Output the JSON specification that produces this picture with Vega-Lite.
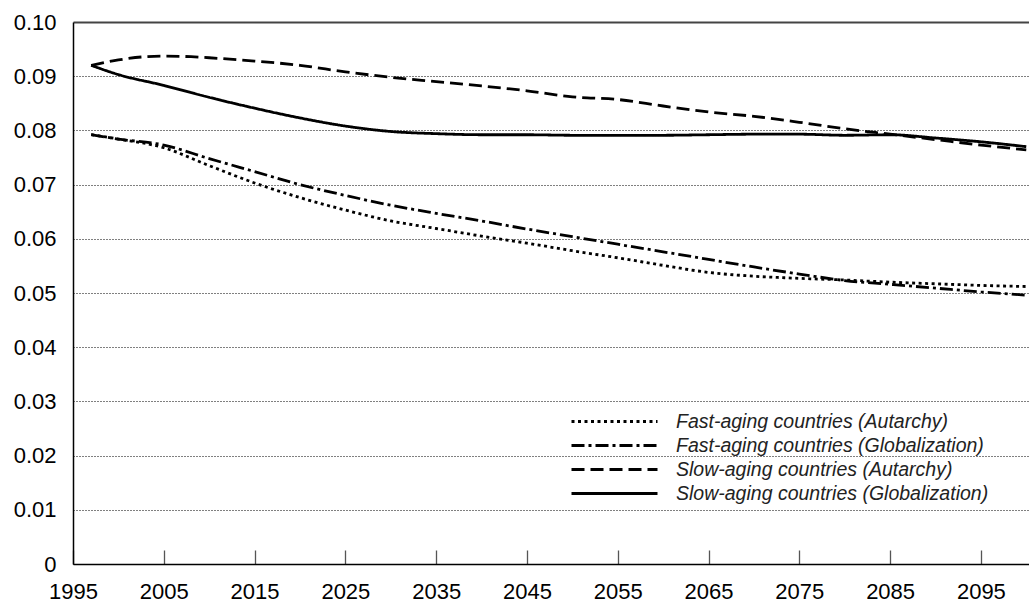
{
  "$schema": "https://vega.github.io/schema/vega-lite/v6.json",
  "width": 956,
  "height": 542,
  "autosize": "none",
  "padding": {"left": 73, "top": 22, "right": 0, "bottom": 46},
  "background": "white",
  "config": {
    "view": {"stroke": null},
    "font": "Liberation Sans"
  },
  "data": {
    "values": [
      {"year": 1997, "series": "Fast-aging countries (Autarchy)", "value": 0.0792},
      {"year": 2000, "series": "Fast-aging countries (Autarchy)", "value": 0.0784},
      {"year": 2005, "series": "Fast-aging countries (Autarchy)", "value": 0.0768},
      {"year": 2010, "series": "Fast-aging countries (Autarchy)", "value": 0.0735},
      {"year": 2015, "series": "Fast-aging countries (Autarchy)", "value": 0.0703},
      {"year": 2020, "series": "Fast-aging countries (Autarchy)", "value": 0.0676},
      {"year": 2025, "series": "Fast-aging countries (Autarchy)", "value": 0.0653},
      {"year": 2030, "series": "Fast-aging countries (Autarchy)", "value": 0.0633},
      {"year": 2035, "series": "Fast-aging countries (Autarchy)", "value": 0.0619},
      {"year": 2040, "series": "Fast-aging countries (Autarchy)", "value": 0.0605},
      {"year": 2045, "series": "Fast-aging countries (Autarchy)", "value": 0.0592},
      {"year": 2050, "series": "Fast-aging countries (Autarchy)", "value": 0.0578},
      {"year": 2055, "series": "Fast-aging countries (Autarchy)", "value": 0.0565},
      {"year": 2060, "series": "Fast-aging countries (Autarchy)", "value": 0.0551},
      {"year": 2065, "series": "Fast-aging countries (Autarchy)", "value": 0.0538},
      {"year": 2070, "series": "Fast-aging countries (Autarchy)", "value": 0.0531},
      {"year": 2075, "series": "Fast-aging countries (Autarchy)", "value": 0.0527},
      {"year": 2080, "series": "Fast-aging countries (Autarchy)", "value": 0.0524},
      {"year": 2085, "series": "Fast-aging countries (Autarchy)", "value": 0.0520},
      {"year": 2090, "series": "Fast-aging countries (Autarchy)", "value": 0.0517},
      {"year": 2095, "series": "Fast-aging countries (Autarchy)", "value": 0.0514},
      {"year": 2100, "series": "Fast-aging countries (Autarchy)", "value": 0.0512},

      {"year": 1997, "series": "Fast-aging countries (Globalization)", "value": 0.0792},
      {"year": 2000, "series": "Fast-aging countries (Globalization)", "value": 0.0784},
      {"year": 2005, "series": "Fast-aging countries (Globalization)", "value": 0.0773},
      {"year": 2010, "series": "Fast-aging countries (Globalization)", "value": 0.0748},
      {"year": 2015, "series": "Fast-aging countries (Globalization)", "value": 0.0724},
      {"year": 2020, "series": "Fast-aging countries (Globalization)", "value": 0.0700},
      {"year": 2025, "series": "Fast-aging countries (Globalization)", "value": 0.0680},
      {"year": 2030, "series": "Fast-aging countries (Globalization)", "value": 0.0662},
      {"year": 2035, "series": "Fast-aging countries (Globalization)", "value": 0.0647},
      {"year": 2040, "series": "Fast-aging countries (Globalization)", "value": 0.0633},
      {"year": 2045, "series": "Fast-aging countries (Globalization)", "value": 0.0618},
      {"year": 2050, "series": "Fast-aging countries (Globalization)", "value": 0.0604},
      {"year": 2055, "series": "Fast-aging countries (Globalization)", "value": 0.0590},
      {"year": 2060, "series": "Fast-aging countries (Globalization)", "value": 0.0576},
      {"year": 2065, "series": "Fast-aging countries (Globalization)", "value": 0.0562},
      {"year": 2070, "series": "Fast-aging countries (Globalization)", "value": 0.0548},
      {"year": 2075, "series": "Fast-aging countries (Globalization)", "value": 0.0535},
      {"year": 2080, "series": "Fast-aging countries (Globalization)", "value": 0.0523},
      {"year": 2085, "series": "Fast-aging countries (Globalization)", "value": 0.0516},
      {"year": 2090, "series": "Fast-aging countries (Globalization)", "value": 0.0509},
      {"year": 2095, "series": "Fast-aging countries (Globalization)", "value": 0.0502},
      {"year": 2100, "series": "Fast-aging countries (Globalization)", "value": 0.0496},

      {"year": 1997, "series": "Slow-aging countries (Autarchy)", "value": 0.0920},
      {"year": 2000, "series": "Slow-aging countries (Autarchy)", "value": 0.0930},
      {"year": 2003, "series": "Slow-aging countries (Autarchy)", "value": 0.0936},
      {"year": 2005, "series": "Slow-aging countries (Autarchy)", "value": 0.0937},
      {"year": 2008, "series": "Slow-aging countries (Autarchy)", "value": 0.0936},
      {"year": 2010, "series": "Slow-aging countries (Autarchy)", "value": 0.0934},
      {"year": 2015, "series": "Slow-aging countries (Autarchy)", "value": 0.0928},
      {"year": 2020, "series": "Slow-aging countries (Autarchy)", "value": 0.0920},
      {"year": 2025, "series": "Slow-aging countries (Autarchy)", "value": 0.0908},
      {"year": 2030, "series": "Slow-aging countries (Autarchy)", "value": 0.0898},
      {"year": 2035, "series": "Slow-aging countries (Autarchy)", "value": 0.0890},
      {"year": 2040, "series": "Slow-aging countries (Autarchy)", "value": 0.0882},
      {"year": 2045, "series": "Slow-aging countries (Autarchy)", "value": 0.0873},
      {"year": 2050, "series": "Slow-aging countries (Autarchy)", "value": 0.0862},
      {"year": 2055, "series": "Slow-aging countries (Autarchy)", "value": 0.0857},
      {"year": 2060, "series": "Slow-aging countries (Autarchy)", "value": 0.0845},
      {"year": 2065, "series": "Slow-aging countries (Autarchy)", "value": 0.0834},
      {"year": 2070, "series": "Slow-aging countries (Autarchy)", "value": 0.0826},
      {"year": 2075, "series": "Slow-aging countries (Autarchy)", "value": 0.0815},
      {"year": 2080, "series": "Slow-aging countries (Autarchy)", "value": 0.0803},
      {"year": 2085, "series": "Slow-aging countries (Autarchy)", "value": 0.0793},
      {"year": 2090, "series": "Slow-aging countries (Autarchy)", "value": 0.0783},
      {"year": 2095, "series": "Slow-aging countries (Autarchy)", "value": 0.0773},
      {"year": 2100, "series": "Slow-aging countries (Autarchy)", "value": 0.0764},

      {"year": 1997, "series": "Slow-aging countries (Globalization)", "value": 0.0920},
      {"year": 2000, "series": "Slow-aging countries (Globalization)", "value": 0.0903},
      {"year": 2005, "series": "Slow-aging countries (Globalization)", "value": 0.0883},
      {"year": 2010, "series": "Slow-aging countries (Globalization)", "value": 0.0861},
      {"year": 2015, "series": "Slow-aging countries (Globalization)", "value": 0.0841},
      {"year": 2020, "series": "Slow-aging countries (Globalization)", "value": 0.0823},
      {"year": 2025, "series": "Slow-aging countries (Globalization)", "value": 0.0808},
      {"year": 2030, "series": "Slow-aging countries (Globalization)", "value": 0.0798},
      {"year": 2035, "series": "Slow-aging countries (Globalization)", "value": 0.0794},
      {"year": 2040, "series": "Slow-aging countries (Globalization)", "value": 0.0792},
      {"year": 2045, "series": "Slow-aging countries (Globalization)", "value": 0.0792},
      {"year": 2050, "series": "Slow-aging countries (Globalization)", "value": 0.0791},
      {"year": 2055, "series": "Slow-aging countries (Globalization)", "value": 0.0791},
      {"year": 2060, "series": "Slow-aging countries (Globalization)", "value": 0.0791},
      {"year": 2065, "series": "Slow-aging countries (Globalization)", "value": 0.0792},
      {"year": 2070, "series": "Slow-aging countries (Globalization)", "value": 0.0793},
      {"year": 2075, "series": "Slow-aging countries (Globalization)", "value": 0.0793},
      {"year": 2080, "series": "Slow-aging countries (Globalization)", "value": 0.0791},
      {"year": 2085, "series": "Slow-aging countries (Globalization)", "value": 0.0792},
      {"year": 2090, "series": "Slow-aging countries (Globalization)", "value": 0.0786},
      {"year": 2095, "series": "Slow-aging countries (Globalization)", "value": 0.0779},
      {"year": 2100, "series": "Slow-aging countries (Globalization)", "value": 0.0770}
    ]
  },
  "mark": {"type": "line", "color": "black", "strokeWidth": 2.8, "interpolate": "monotone", "clip": true},
  "encoding": {
    "x": {
      "field": "year",
      "type": "quantitative",
      "scale": {"domain": [1995, 2100.3], "nice": false, "zero": false},
      "axis": {
        "title": null,
        "values": [1995, 2005, 2015, 2025, 2035, 2045, 2055, 2065, 2075, 2085, 2095],
        "format": "d",
        "grid": false,
        "domainColor": "black",
        "domainWidth": 1.5,
        "tickSize": -14,
        "tickColor": "#555",
        "tickWidth": 1.3,
        "labelPadding": 31,
        "labelFontSize": 22,
        "labelColor": "black",
        "labelFlush": false,
        "labelOverlap": false
      }
    },
    "y": {
      "field": "value",
      "type": "quantitative",
      "scale": {"domain": [0, 0.1], "nice": false},
      "axis": {
        "title": null,
        "values": [0, 0.01, 0.02, 0.03, 0.04, 0.05, 0.06, 0.07, 0.08, 0.09, 0.1],
        "labelExpr": "datum.value == 0 ? '0' : format(datum.value, '.2f')",
        "ticks": false,
        "labelPadding": 17,
        "labelFontSize": 22,
        "labelColor": "black",
        "labelFlush": false,
        "labelOverlap": false,
        "domainColor": "black",
        "domainWidth": 1.5,
        "grid": true,
        "gridColor": {"condition": {"test": "datum.value >= 0.099", "value": "#444"}, "value": "black"},
        "gridOpacity": 1,
        "gridWidth": {"condition": {"test": "datum.value >= 0.099", "value": 2}, "value": 1},
        "gridDash": {"condition": {"test": "datum.value >= 0.099", "value": [1, 0]}, "value": [1, 2]}
      }
    },
    "strokeDash": {
      "field": "series",
      "type": "nominal",
      "scale": {
        "domain": ["Fast-aging countries (Autarchy)", "Fast-aging countries (Globalization)", "Slow-aging countries (Autarchy)", "Slow-aging countries (Globalization)"],
        "range": [[3, 3.5], [13, 4, 3, 4], [13, 6], [1, 0]]
      },
      "legend": {
        "title": null,
        "orient": "none",
        "legendX": 530,
        "legendY": 388,
        "padding": 0,
        "rowPadding": 3,
        "symbolType": "M-4.3,0L4.3,0",
        "symbolSize": 400,
        "symbolStrokeWidth": 2.8,
        "symbolStrokeColor": "black",
        "labelOffset": 50,
        "labelFontSize": 19.5,
        "labelFontStyle": "italic",
        "labelColor": "#222",
        "labelLimit": 400
      }
    }
  }
}
